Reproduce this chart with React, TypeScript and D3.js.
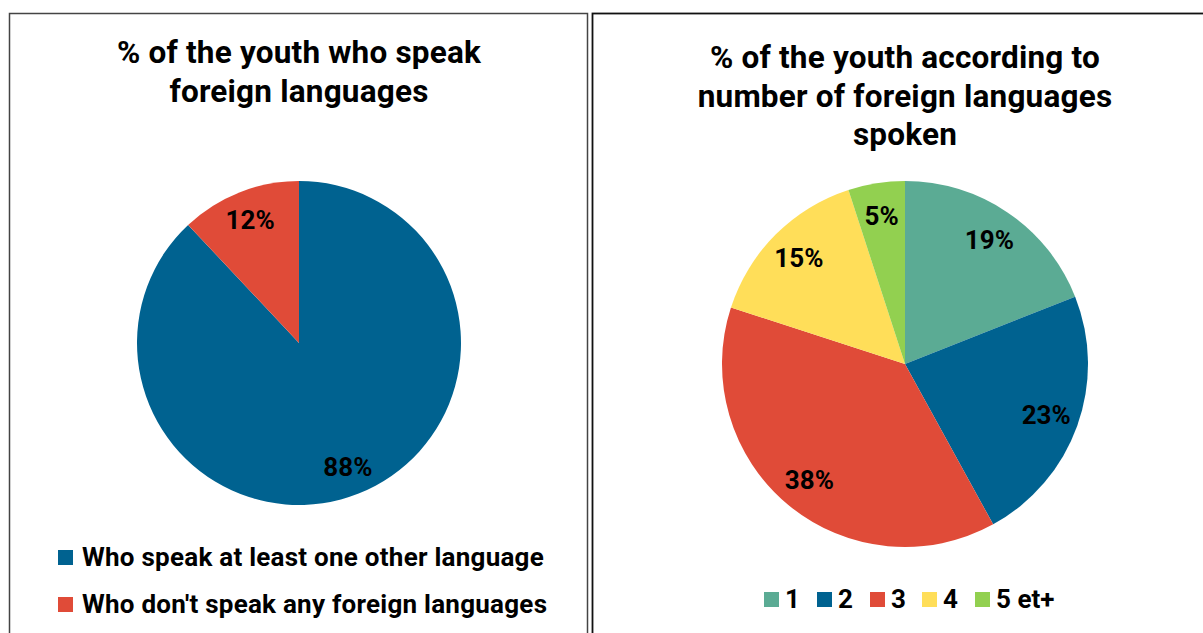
import React from 'react';
import * as d3 from 'd3';

interface Slice {
    label: string;
    value: number;
    color: string;
}

const speakLabels = ['Who speak at least one other language', "Who don't speak any foreign languages"];
const speakValues = [88, 12];
const speakColors = ['#006290', '#E04B38'];

const countLabels = ['1', '2', '3', '4', '5 et+'];
const countValues = [19, 23, 38, 15, 5];
const countColors = ['#5BAB94', '#006290', '#E04B38', '#FFDE59', '#92D050'];

const leftTitle = ['% of the youth who speak', 'foreign languages'];
const rightTitle = ['% of the youth according to', 'number of foreign languages', 'spoken'];

const FONT = 'Roboto, "Noto Sans", sans-serif';

const toSlices = (labels: string[], values: number[], colors: string[]): Slice[] =>
    labels.map((label, i) => ({ label, value: values[i], color: colors[i] }));

const Pie: React.FC<{ data: Slice[]; cx: number; cy: number; r: number }> = ({ data, cx, cy, r }) => {
    const pie = d3.pie<Slice>().value(d => d.value).sort(null);
    const arcs = pie(data);
    const arc = d3.arc<d3.PieArcDatum<Slice>>().innerRadius(0).outerRadius(r);
    const labelArc = d3.arc<d3.PieArcDatum<Slice>>().innerRadius(r * 0.82).outerRadius(r * 0.82);
    return (
        <g transform={`translate(${cx},${cy})`}>
            {arcs.map((a, i) => (
                <path key={i} d={arc(a) || ''} fill={a.data.color} />
            ))}
            {arcs.map((a, i) => {
                const [x, y] = labelArc.centroid(a);
                return (
                    <text key={'t' + i} x={x} y={y} dy="0.36em" textAnchor="middle"
                        fontFamily={FONT} fontWeight="bold" fontSize={26} fill="#000">
                        {a.data.value}%
                    </text>
                );
            })}
        </g>
    );
};

const Title: React.FC<{ lines: string[]; cx: number; y0: number }> = ({ lines, cx, y0 }) => (
    <text textAnchor="middle" fontFamily={FONT} fontWeight="bold" fontSize={31.5} letterSpacing={0.2} fill="#000">
        {lines.map((l, i) => (
            <tspan key={i} x={cx} y={y0 + i * 38.5}>{l}</tspan>
        ))}
    </text>
);

const App: React.FC = () => {
    const left = toSlices(speakLabels, speakValues, speakColors);
    const right = toSlices(countLabels, countValues, countColors);
    const rightLegendX = [764, 817, 870, 922, 975];

    return (
        <svg width={1203} height={633} style={{ position: 'absolute', left: 0, top: 0 }}>
            <rect x={0} y={0} width={1203} height={633} fill="#fff" />
            <rect x={9.5} y={13.5} width={578} height={640} fill="none" stroke="#444" strokeWidth={1.5} />
            <rect x={592.5} y={13.5} width={640} height={640} fill="none" stroke="#111" strokeWidth={1.8} />

            <Title lines={leftTitle} cx={299} y0={63} />
            <Title lines={rightTitle} cx={905} y0={68} />

            <Pie data={left} cx={299} cy={343} r={162} />
            <Pie data={right} cx={905} cy={364} r={183} />

            {left.map((d, i) => (
                <g key={i} transform={`translate(58,${550 + i * 47})`}>
                    <rect width={15} height={15} fill={d.color} />
                    <text x={24} y={15.5} fontFamily={FONT} fontWeight="bold" fontSize={26} letterSpacing={0.25} fill="#000">{d.label}</text>
                </g>
            ))}

            {right.map((d, i) => (
                <g key={i} transform={`translate(${rightLegendX[i]},592)`}>
                    <rect width={15} height={15} fill={d.color} />
                    <text x={21} y={15.5} fontFamily={FONT} fontWeight="bold" fontSize={26} fill="#000">{d.label}</text>
                </g>
            ))}
        </svg>
    );
};

export default App;
